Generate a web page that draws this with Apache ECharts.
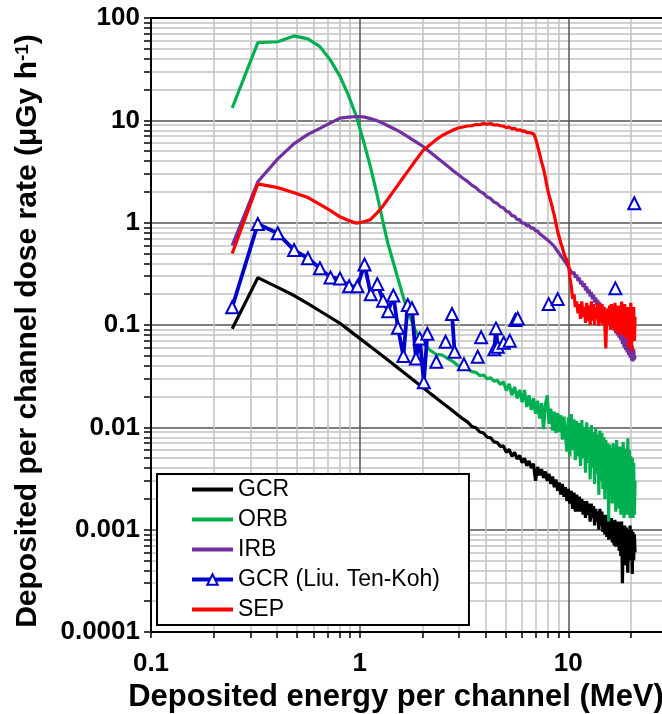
<!DOCTYPE html>
<html><head><meta charset="utf-8">
<script src="https://cdn.jsdelivr.net/npm/echarts@6/dist/echarts.min.js"></script>
<style>html,body{margin:0;padding:0;background:#fff}#c{width:662px;height:714px}</style>
</head><body><div id="c"></div>
<script>
// ---- tick labels ----
const xTickLabels = ['0.1', '1', '10'];
const yTickLabels = ['0.0001', '0.001', '0.01', '0.1', '1', '10', '100'];

// ---- channel energies (MeV) ----
const eLo = [0.245, 0.325, 0.405, 0.485, 0.565, 0.645, 0.725, 0.805, 0.885, 0.965,
  1.045, 1.125, 1.205, 1.285, 1.365, 1.445, 1.525, 1.605, 1.685, 1.765,
  1.845, 1.925, 2.005, 2.165, 2.325, 2.485, 2.645, 2.805, 2.965, 3.125];
const eHi = [3.285, 3.445, 3.605, 3.765, 3.925, 4.085, 4.245, 4.405, 4.565, 4.725,
  4.885, 5.045, 5.205, 5.365, 5.525, 5.685, 5.845, 6.005, 6.165, 6.325,
  6.485, 6.645, 6.805, 6.965, 7.125, 7.285, 7.445, 7.605, 7.765, 7.925,
  8.085, 8.245, 8.405, 8.565, 8.725, 8.885, 9.045, 9.205, 9.365, 9.525,
  9.685, 9.845, 10.005, 10.165, 10.325, 10.485, 10.645, 10.805, 10.965, 11.125,
  11.285, 11.445, 11.605, 11.765, 11.925, 12.085, 12.245, 12.405, 12.565, 12.725,
  12.885, 13.045, 13.205, 13.365, 13.525, 13.685, 13.845, 14.005, 14.165, 14.325,
  14.485, 14.645, 14.805, 14.965, 15.125, 15.285, 15.445, 15.605, 15.765, 15.925,
  16.085, 16.245, 16.405, 16.565, 16.725, 16.885, 17.045, 17.205, 17.365, 17.525,
  17.685, 17.845, 18.005, 18.165, 18.325, 18.485, 18.645, 18.805, 18.965, 19.125,
  19.285, 19.445, 19.605, 19.765, 19.925, 20.085, 20.245, 20.405, 20.565, 20.725,
  20.885];

// ---- GCR (black) ----
const gcrLo = [0.092, 0.29, 0.233, 0.194, 0.162, 0.137, 0.1184, 0.1038, 0.0896, 0.0783,
  0.0692, 0.0617, 0.0555, 0.0501, 0.0455, 0.0415, 0.0381, 0.0351, 0.0325, 0.0301,
  0.0281, 0.0262, 0.0246, 0.0217, 0.0194, 0.0174, 0.0158, 0.0144, 0.0131, 0.0121];
const gcrHi = [0.0113, 0.0102, 0.0099, 0.0090, 0.0088, 0.0080, 0.0079, 0.0072, 0.0071, 0.0065,
  0.0066, 0.0057, 0.0061, 0.0052, 0.0057, 0.0049, 0.0053, 0.0045, 0.0050, 0.0042,
  0.0047, 0.0040, 0.0044, 0.0030, 0.0041, 0.0034, 0.0039, 0.0032, 0.0037, 0.0030,
  0.0035, 0.0028, 0.0033, 0.0026, 0.0031, 0.0024, 0.0029, 0.0022, 0.0028, 0.0021,
  0.0026, 0.0019, 0.0025, 0.0018, 0.0024, 0.0016, 0.0023, 0.0015, 0.0022, 0.0015,
  0.0021, 0.0015, 0.0020, 0.0014, 0.0019, 0.0013, 0.0019, 0.0014, 0.0018, 0.0012,
  0.0018, 0.0013, 0.0017, 0.0011, 0.0016, 0.0012, 0.0015, 0.0010, 0.0016, 0.0011,
  0.0015, 0.00095, 0.0014, 0.0009, 0.0014, 0.00085, 0.0013, 0.0008, 0.0013, 0.00082,
  0.0013, 0.00075, 0.0012, 0.0007, 0.00125, 0.00068, 0.0011, 0.00072, 0.0012, 0.00062,
  0.0011, 0.00055, 0.0012, 0.0003, 0.0010, 0.0005, 0.0011, 0.00045, 0.00105, 0.0005,
  0.00038, 0.0010, 0.0005, 0.0011, 0.00052, 0.0010, 0.00037, 0.00095, 0.0005, 0.0009,
  0.0006];

// ---- ORB (green) ----
const orbLo = [13.2, 57.4, 58.6, 66.8, 62.5, 52.5, 38.7, 26.9, 17.4, 10.9,
  6.2, 3.55, 1.97, 1.08, 0.627, 0.42, 0.285, 0.199, 0.144, 0.113,
  0.0893, 0.0767, 0.0687, 0.057, 0.0518, 0.0509, 0.047, 0.0438, 0.040, 0.0385];
const orbHi = [0.0372, 0.0350, 0.0345, 0.0320, 0.0325, 0.0298, 0.0305, 0.0282, 0.0288, 0.0262,
  0.0280, 0.0228, 0.0266, 0.0206, 0.0248, 0.0192, 0.0232, 0.0176, 0.0232, 0.0158,
  0.0205, 0.0148, 0.0192, 0.0136, 0.0182, 0.0122, 0.0172, 0.0096, 0.0168, 0.0205,
  0.0108, 0.0152, 0.0093, 0.0142, 0.0088, 0.0138, 0.0090, 0.0132, 0.0076, 0.0127,
  0.0127, 0.0058, 0.0125, 0.0052, 0.0135, 0.0060, 0.0120, 0.0048, 0.0115, 0.0052,
  0.0110, 0.0042, 0.0118, 0.0050, 0.0100, 0.0036, 0.0112, 0.0045, 0.0095, 0.0031,
  0.0105, 0.0040, 0.0090, 0.0028, 0.0098, 0.0035, 0.0085, 0.0022, 0.0093, 0.0030,
  0.0088, 0.0025, 0.0080, 0.0020, 0.0075, 0.0030, 0.0070, 0.0012, 0.0068, 0.0022,
  0.0062, 0.0018, 0.0070, 0.0024, 0.0064, 0.0015, 0.0075, 0.0020, 0.0060, 0.0016,
  0.0065, 0.0014, 0.0058, 0.0019, 0.0072, 0.0013, 0.0062, 0.0017, 0.0055, 0.0014,
  0.0078, 0.0015, 0.0060, 0.0013, 0.0052, 0.0016, 0.0050, 0.0013, 0.0045, 0.0014,
  0.0030];

// ---- IRB (purple) ----
const irbLo = [0.6, 2.51, 4.2, 5.93, 7.3, 8.35, 9.43, 10.5, 10.75, 10.9,
  10.8, 10.4, 9.95, 9.43, 8.86, 8.37, 7.93, 7.45, 7.0, 6.59,
  6.22, 5.88, 5.58, 4.92, 4.38, 3.93, 3.55, 3.22, 2.95, 2.72];
const irbHi = [2.53, 2.33, 2.20, 2.02, 1.93, 1.78, 1.72, 1.59, 1.54, 1.43,
  1.40, 1.29, 1.27, 1.17, 1.16, 1.07, 1.07, 0.99, 0.99, 0.93,
  0.94, 0.88, 0.89, 0.83, 0.83, 0.78, 0.79, 0.73, 0.73, 0.68,
  0.68, 0.635, 0.64, 0.585, 0.575, 0.525, 0.52, 0.475, 0.47, 0.43,
  0.435, 0.39, 0.395, 0.35, 0.36, 0.315, 0.33, 0.29, 0.31, 0.27,
  0.29, 0.25, 0.27, 0.235, 0.255, 0.218, 0.238, 0.205, 0.222, 0.19,
  0.21, 0.178, 0.198, 0.166, 0.186, 0.156, 0.176, 0.147, 0.166, 0.138,
  0.158, 0.128, 0.15, 0.12, 0.142, 0.113, 0.135, 0.106, 0.128, 0.1,
  0.122, 0.094, 0.116, 0.088, 0.11, 0.083, 0.105, 0.079, 0.1, 0.075,
  0.095, 0.071, 0.09, 0.065, 0.085, 0.06, 0.082, 0.057, 0.077, 0.054,
  0.072, 0.051, 0.07, 0.048, 0.066, 0.045, 0.063, 0.044, 0.058, 0.046,
  0.05];

// ---- SEP (red) ----
const sepLo = [0.5, 2.39, 2.2, 1.96, 1.76, 1.51, 1.31, 1.14, 1.05, 0.99,
  1.02, 1.07, 1.23, 1.43, 1.70, 2.0, 2.33, 2.70, 3.10, 3.53,
  4.0, 4.49, 5.03, 5.75, 6.47, 7.11, 7.58, 8.05, 8.42, 8.6];
const sepHi = [8.8, 8.85, 9.1, 9.05, 9.3, 9.15, 9.3, 9.0, 9.05, 8.85,
  8.8, 8.5, 8.6, 8.25, 8.35, 8.0, 8.1, 7.85, 7.9, 7.6,
  7.6, 7.5, 7.4, 6.7, 5.6, 4.7, 3.9, 3.35, 2.75, 2.2,
  1.85, 1.6, 1.38, 1.18, 0.98, 0.82, 0.72, 0.63, 0.57, 0.50,
  0.46, 0.43, 0.40, 0.29, 0.24, 0.18, 0.20, 0.15, 0.17, 0.13,
  0.16, 0.115, 0.17, 0.12, 0.15, 0.105, 0.165, 0.11, 0.155, 0.10,
  0.17, 0.11, 0.16, 0.10, 0.15, 0.115, 0.165, 0.098, 0.155, 0.105,
  0.16, 0.10, 0.15, 0.095, 0.059, 0.13, 0.145, 0.10, 0.155, 0.09,
  0.16, 0.095, 0.15, 0.09, 0.165, 0.085, 0.14, 0.095, 0.155, 0.08,
  0.15, 0.085, 0.17, 0.08, 0.14, 0.09, 0.16, 0.075, 0.145, 0.085,
  0.15, 0.06, 0.14, 0.08, 0.165, 0.055, 0.13, 0.075, 0.15, 0.07,
  0.12];

// ---- GCR (Liu. Ten-Koh): measured channels, gaps where no counts ----
const liuSegments = [
  [[0.245, 0.149], [0.325, 0.97], [0.405, 0.787], [0.485, 0.54], [0.565, 0.449], [0.645, 0.358],
   [0.725, 0.292], [0.805, 0.284], [0.89, 0.239], [0.975, 0.239], [1.055, 0.39], [1.13, 0.2],
   [1.215, 0.251], [1.295, 0.173], [1.37, 0.136], [1.45, 0.194], [1.525, 0.094], [1.62, 0.0497],
   [1.70, 0.157], [1.78, 0.146], [1.86, 0.047], [1.94, 0.074], [2.03, 0.0275], [2.11, 0.082]],
  [[2.33, 0.0438]],
  [[2.58, 0.0687]],
  [[2.77, 0.128], [2.85, 0.0548]],
  [[3.16, 0.0413]],
  [[3.68, 0.049]],
  [[3.82, 0.0758]],
  [[4.42, 0.0578], [4.5, 0.0927], [4.59, 0.0613]],
  [[4.9, 0.0671]],
  [[5.24, 0.0703]],
  [[5.57, 0.112], [5.72, 0.116]],
  [[8.05, 0.16]],
  [[8.89, 0.179]],
  [[16.8, 0.228]],
  [[20.7, 1.55]]
];

// ---- build ----
const eAll = eLo.concat(eHi);
function pairs(ys) { return eAll.map((e, i) => [e, ys[i]]); }
const liuData = [];
liuSegments.forEach((seg, k) => {
  if (k > 0) liuData.push(['-', '-']);
  seg.forEach(p => liuData.push(p));
});

const FONT = "'Liberation Sans', Arial, sans-serif";
const chart = echarts.init(document.getElementById('c'), null, { renderer: 'canvas' });

function lineSeries(name, color, data, width) {
  return {
    name, type: 'line', data, symbol: 'none', showSymbol: false,
    lineStyle: { color, width }, itemStyle: { color },
    connectNulls: false, animation: false, silent: true
  };
}
const lineOnly = { opacity: 0 };

const option = {
  animation: false,
  backgroundColor: '#fff',
  textStyle: { fontFamily: FONT },
  grid: { left: 151, top: 18, bottom: 82, right: -115, containLabel: false, outerBoundsMode: 'none' },
  legend: {
    orient: 'vertical', left: 157, top: 474,
    backgroundColor: '#fff', borderColor: '#000', borderWidth: 2,
    padding: [4, 29, 4, 33], itemGap: 7, itemWidth: 41, itemHeight: 13, itemTextGap: 3,
    selectedMode: false,
    lineStyle: { width: 4 },
    textStyle: { fontSize: 23, color: '#000', fontFamily: FONT },
    data: [
      { name: 'GCR', itemStyle: lineOnly },
      { name: 'ORB', itemStyle: lineOnly },
      { name: 'IRB', itemStyle: lineOnly },
      { name: 'GCR (Liu. Ten-Koh)' },
      { name: 'SEP', itemStyle: lineOnly }
    ]
  },
  xAxis: [{
    type: 'log', logBase: 10, min: 0.1, max: 100,
    name: 'Deposited energy per channel (MeV)', nameLocation: 'middle', nameGap: 39,
    nameTextStyle: { fontSize: 31, fontWeight: 'bold', color: '#000', fontFamily: FONT, padding: [0, 136, 0, 0] },
    axisLine: { show: true, lineStyle: { color: '#000', width: 2 } },
    axisTick: { show: true, inside: false, length: 6, lineStyle: { color: '#000', width: 1.5 } },
    minorTick: { show: true, splitNumber: 9, length: 6, lineStyle: { color: '#000', width: 1.5 } },
    axisLabel: {
      margin: 19, fontSize: 26, fontWeight: 'bold', color: '#000', fontFamily: FONT,
      formatter: v => { const k = Math.round(Math.log10(v)) + 1; return xTickLabels[k] || ''; }
    },
    splitLine: { show: true, lineStyle: { color: '#555', width: 1.5 } },
    minorSplitLine: { show: true, lineStyle: { color: '#c4c4c4', width: 1.5 } }
  }, {
    type: 'log', logBase: 10, min: 0.1, max: 100, position: 'top',
    axisLine: { show: true, lineStyle: { color: '#000', width: 2 } },
    axisTick: { show: false }, axisLabel: { show: false }, splitLine: { show: false }
  }],
  yAxis: {
    type: 'log', logBase: 10, min: 0.0001, max: 100,
    name: '{a|Deposited per channel dose rate (μGy h}{s|-1}{a|)}',
    nameLocation: 'middle', nameGap: 108, nameRotate: 90,
    nameTextStyle: {
      color: '#000', fontFamily: FONT, padding: [0, 12, 0, 0],
      rich: {
        a: { fontSize: 30, fontWeight: 'bold', color: '#000', fontFamily: FONT },
        s: { fontSize: 19, fontWeight: 'bold', color: '#000', fontFamily: FONT, verticalAlign: 'top' }
      }
    },
    axisLine: { show: true, lineStyle: { color: '#000', width: 2 } },
    axisTick: { show: true, inside: false, length: 7, lineStyle: { color: '#000', width: 1.5 } },
    minorTick: { show: true, splitNumber: 9, length: 7, lineStyle: { color: '#000', width: 1.5 } },
    axisLabel: {
      margin: 11, fontSize: 26, fontWeight: 'bold', color: '#000', fontFamily: FONT,
      formatter: v => { const k = Math.round(Math.log10(v)) + 4; return yTickLabels[k] || ''; }
    },
    splitLine: { show: true, lineStyle: { color: '#555', width: 1.5 } },
    minorSplitLine: { show: true, lineStyle: { color: '#c4c4c4', width: 1.5 } }
  },
  series: [
    lineSeries('GCR', '#000000', pairs(gcrLo.concat(gcrHi)), 3.2),
    lineSeries('ORB', '#00b050', pairs(orbLo.concat(orbHi)), 3.2),
    lineSeries('IRB', '#7030a0', pairs(irbLo.concat(irbHi)), 3.2),
    {
      name: 'GCR (Liu. Ten-Koh)', type: 'line', data: liuData,
      symbol: 'triangle', symbolSize: 12, showSymbol: true, connectNulls: false,
      lineStyle: { color: '#0000cc', width: 3.8 },
      itemStyle: { color: '#ffffff', borderColor: '#0000cc', borderWidth: 2 },
      animation: false, silent: true
    },
    lineSeries('SEP', '#ff0000', pairs(sepLo.concat(sepHi)), 3.2)
  ]
};
chart.setOption(option);
</script>
</body></html>
